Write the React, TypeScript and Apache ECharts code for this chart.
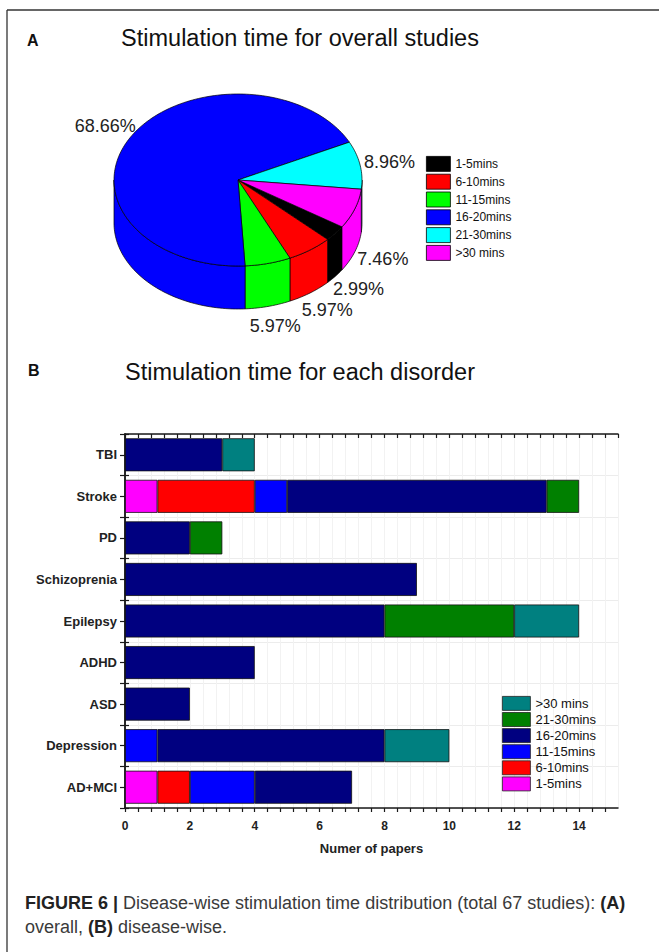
import React, { useEffect, useRef } from 'react';
import * as echarts from 'echarts';

// ---------- Panel A data ----------
const pieNames = ['1-5mins', '6-10mins', '11-15mins', '16-20mins', '21-30mins', '>30 mins'];
const pieColors = ['#000000', '#ff0000', '#00ff00', '#0000ff', '#00ffff', '#ff00ff'];
const pieCounts = [2, 4, 4, 46, 6, 5];

// ---------- Panel B data ----------
const disorders = ['AD+MCI', 'Depression', 'ASD', 'ADHD', 'Epilepsy', 'Schizoprenia', 'PD', 'Stroke', 'TBI'];
const barNames = ['1-5mins', '6-10mins', '11-15mins', '16-20mins', '21-30mins', '>30 mins'];
const barColors = ['#ff00ff', '#ff0000', '#0000ff', '#000080', '#008000', '#008080'];
const min1to5 = [1, 0, 0, 0, 0, 0, 0, 1, 0];
const min6to10 = [1, 0, 0, 0, 0, 0, 0, 3, 0];
const min11to15 = [2, 1, 0, 0, 0, 0, 0, 1, 0];
const min16to20 = [3, 7, 2, 4, 8, 9, 2, 8, 3];
const min21to30 = [0, 0, 0, 0, 4, 0, 1, 1, 0];
const minOver30 = [0, 2, 0, 0, 2, 0, 0, 0, 1];
const barLegendOrder = ['>30 mins', '21-30mins', '16-20mins', '11-15mins', '6-10mins', '1-5mins'];
const xAxisMax = 15.2;

const FONT = '"Liberation Sans", Arial, Helvetica, sans-serif';
const total = pieCounts.reduce((a, b) => a + b, 0);
const P = { cx: 238, cy: 180, rx: 124, ry: 86, depth: 43, startDeg: 33, labelK: 1.24 };

function arcPoints(s: number, e: number, dy: number) {
  const n = Math.max(2, Math.ceil((e - s) / (Math.PI / 120)));
  const pts: number[][] = [];
  for (let k = 0; k <= n; k++) {
    const t = s + ((e - s) * k) / n;
    pts.push([P.cx + P.rx * Math.cos(t), P.cy + P.ry * Math.sin(t) + dy]);
  }
  return pts;
}

function renderPieSlice(params: any, api: any) {
  const i = params.seriesIndex;
  const before = pieCounts.slice(0, i).reduce((a, b) => a + b, 0);
  const v = api.value(0);
  const a0 = (P.startDeg * Math.PI) / 180 + (before / total) * Math.PI * 2;
  const a1 = a0 + (v / total) * Math.PI * 2;
  const color = pieColors[i];
  const children: any[] = [];
  for (const base of [0, Math.PI * 2]) {
    const lo = Math.max(a0, base);
    const hi = Math.min(a1, base + Math.PI);
    if (hi > lo) {
      const top = arcPoints(lo, hi, 0);
      const bot = arcPoints(lo, hi, P.depth).reverse();
      children.push({
        type: 'polygon',
        shape: { points: top.concat(bot) },
        style: { fill: color, stroke: '#000', lineWidth: 0.7 },
      });
    }
  }
  children.push({
    type: 'polygon',
    shape: { points: [[P.cx, P.cy]].concat(arcPoints(a0, a1, 0)) },
    style: { fill: color, stroke: '#000', lineWidth: 0.7 },
  });
  const mid = (a0 + a1) / 2;
  const sm = Math.sin(mid);
  const lx = P.cx + P.rx * Math.cos(mid) * P.labelK;
  const ly = P.cy + P.ry * sm * P.labelK + (sm > 0 ? P.depth : 0);
  children.push({
    type: 'text',
    style: {
      x: lx,
      y: ly,
      text: ((v / total) * 100).toFixed(2) + '%',
      fill: '#222',
      font: `18px ${FONT}`,
      align: 'center',
      verticalAlign: 'middle',
      textAlign: 'center',
      textVerticalAlign: 'middle',
    },
  });
  return { type: 'group', children };
}

const barData = [min1to5, min6to10, min11to15, min16to20, min21to30, minOver30];

const isLabelTick = (v: number) => Math.abs(v / 2 - Math.round(v / 2)) < 1e-6;

const axisLineStyle = { color: '#1a1a1a', width: 1.5 };

const option: any = {
  animation: false,
  backgroundColor: '#ffffff',
  textStyle: { fontFamily: FONT },
  legend: [
    {
      orient: 'vertical',
      left: 426,
      top: 156,
      padding: 0,
      itemWidth: 24,
      itemHeight: 15,
      itemGap: 2,
      icon: 'rect',
      selectedMode: false,
      textStyle: { fontSize: 12, color: '#111', fontFamily: FONT },
      data: pieNames.map((n, i) => ({
        name: n,
        itemStyle: { color: pieColors[i], borderColor: '#000', borderWidth: 0.8 },
      })),
    },
    {
      orient: 'vertical',
      left: 502,
      top: 696,
      padding: 0,
      itemWidth: 28,
      itemHeight: 14,
      itemGap: 1.3,
      icon: 'rect',
      selectedMode: false,
      textStyle: { fontSize: 13, color: '#111', fontFamily: FONT },
      data: barLegendOrder.map((n) => ({
        name: n,
        itemStyle: { color: barColors[barNames.indexOf(n)], borderColor: '#222', borderWidth: 0.8 },
      })),
    },
  ],
  grid: { left: 125, right: 41, top: 434, bottom: 144, containLabel: false },
  xAxis: [
    {
      type: 'value',
      position: 'bottom',
      min: 0,
      max: xAxisMax,
      interval: 0.4,
      axisLine: { show: true, lineStyle: axisLineStyle },
      axisTick: { show: true, length: 4, lineStyle: { color: '#1a1a1a', width: 1.2 } },
      axisLabel: {
        formatter: (v: number) => (isLabelTick(v) ? String(Math.round(v)) : ''),
        fontWeight: 'bold',
        fontSize: 12,
        color: '#222',
        margin: 12,
        showMaxLabel: false,
        fontFamily: FONT,
      },
      splitLine: { show: true, lineStyle: { color: '#f2f2f2', width: 1 } },
      name: 'Numer of papers',
      nameLocation: 'middle',
      nameGap: 34,
      nameTextStyle: { fontWeight: 'bold', fontSize: 13, color: '#222', fontFamily: FONT },
    },
    {
      type: 'value',
      position: 'top',
      min: 0,
      max: xAxisMax,
      interval: 0.4,
      axisLine: { show: true, lineStyle: axisLineStyle },
      axisTick: { show: true, inside: true, length: 4, lineStyle: { color: '#1a1a1a', width: 1.2 } },
      axisLabel: { show: false },
      splitLine: { show: false },
    },
  ],
  yAxis: [
    {
      type: 'category',
      data: disorders,
      position: 'left',
      axisLine: { show: true, lineStyle: axisLineStyle },
      axisTick: { show: true, inside: true, length: 4, lineStyle: { color: '#1a1a1a', width: 1.2 } },
      axisLabel: { fontWeight: 'bold', fontSize: 13, color: '#222', margin: 8, fontFamily: FONT },
      splitLine: { show: true, lineStyle: { color: '#ececec', width: 1 } },
    },
    {
      type: 'value',
      position: 'right',
      min: 0,
      max: disorders.length,
      interval: 0.5,
      axisLine: { show: true, lineStyle: axisLineStyle },
      axisTick: { show: true, inside: true, length: 5, lineStyle: { color: '#1a1a1a', width: 1.2 } },
      axisLabel: { show: false },
      splitLine: { show: false },
    },
  ],
  series: [
    ...pieNames.map((n, i) => ({
      type: 'custom',
      name: n,
      coordinateSystem: 'none',
      itemStyle: { color: pieColors[i] },
      data: [[pieCounts[i]]],
      renderItem: renderPieSlice,
      silent: true,
    })),
    ...barNames.map((n, j) => ({
      type: 'bar',
      name: n,
      stack: 'total',
      xAxisIndex: 0,
      yAxisIndex: 0,
      barWidth: 33,
      itemStyle: { color: barColors[j], borderColor: '#111', borderWidth: 0.8 },
      data: barData[j].map((v) => (v ? v : null)),
      silent: true,
    })),
  ],
  graphic: [
    { type: 'line', shape: { x1: 7, y1: 10, x2: 659, y2: 10 }, style: { stroke: '#333', lineWidth: 1.3 } },
    { type: 'line', shape: { x1: 7, y1: 10, x2: 7, y2: 952 }, style: { stroke: '#333', lineWidth: 1.3 } },
    {
      type: 'text',
      style: { x: 27, y: 40, text: 'A', font: `bold 16px ${FONT}`, fill: '#111', verticalAlign: 'middle', textVerticalAlign: 'middle' },
    },
    {
      type: 'text',
      style: {
        x: 300, y: 38, text: 'Stimulation time for overall studies', font: `23.5px ${FONT}`, fill: '#111',
        align: 'center', textAlign: 'center', verticalAlign: 'middle', textVerticalAlign: 'middle',
      },
    },
    {
      type: 'text',
      style: { x: 28, y: 370, text: 'B', font: `bold 16px ${FONT}`, fill: '#111', verticalAlign: 'middle', textVerticalAlign: 'middle' },
    },
    {
      type: 'text',
      style: {
        x: 300, y: 372, text: 'Stimulation time for each disorder', font: `23.5px ${FONT}`, fill: '#111',
        align: 'center', textAlign: 'center', verticalAlign: 'middle', textVerticalAlign: 'middle',
      },
    },
    {
      type: 'text',
      style: {
        x: 25, y: 903,
        text: '{b|FIGURE 6 |} Disease-wise stimulation time distribution (total 67 studies): {b|(A)}',
        font: `18px ${FONT}`, fill: '#3a3a3a', verticalAlign: 'middle', textVerticalAlign: 'middle',
        rich: { b: { fontWeight: 'bold', fontSize: 18, fontFamily: FONT, fill: '#222', color: '#222' } },
      },
    },
    {
      type: 'text',
      style: {
        x: 25, y: 927,
        text: 'overall, {b|(B)} disease-wise.',
        font: `18px ${FONT}`, fill: '#3a3a3a', verticalAlign: 'middle', textVerticalAlign: 'middle',
        rich: { b: { fontWeight: 'bold', fontSize: 18, fontFamily: FONT, fill: '#222', color: '#222' } },
      },
    },
  ],
};

export default function App() {
  const ref = useRef<HTMLDivElement>(null);
  useEffect(() => {
    const chart = echarts.init(ref.current as HTMLDivElement, null, { renderer: 'svg' });
    chart.setOption(option);
    return () => chart.dispose();
  }, []);
  return (
    <div
      ref={ref}
      style={{ position: 'absolute', left: 0, top: 0, width: 659, height: 952, background: '#fff' }}
    />
  );
}
